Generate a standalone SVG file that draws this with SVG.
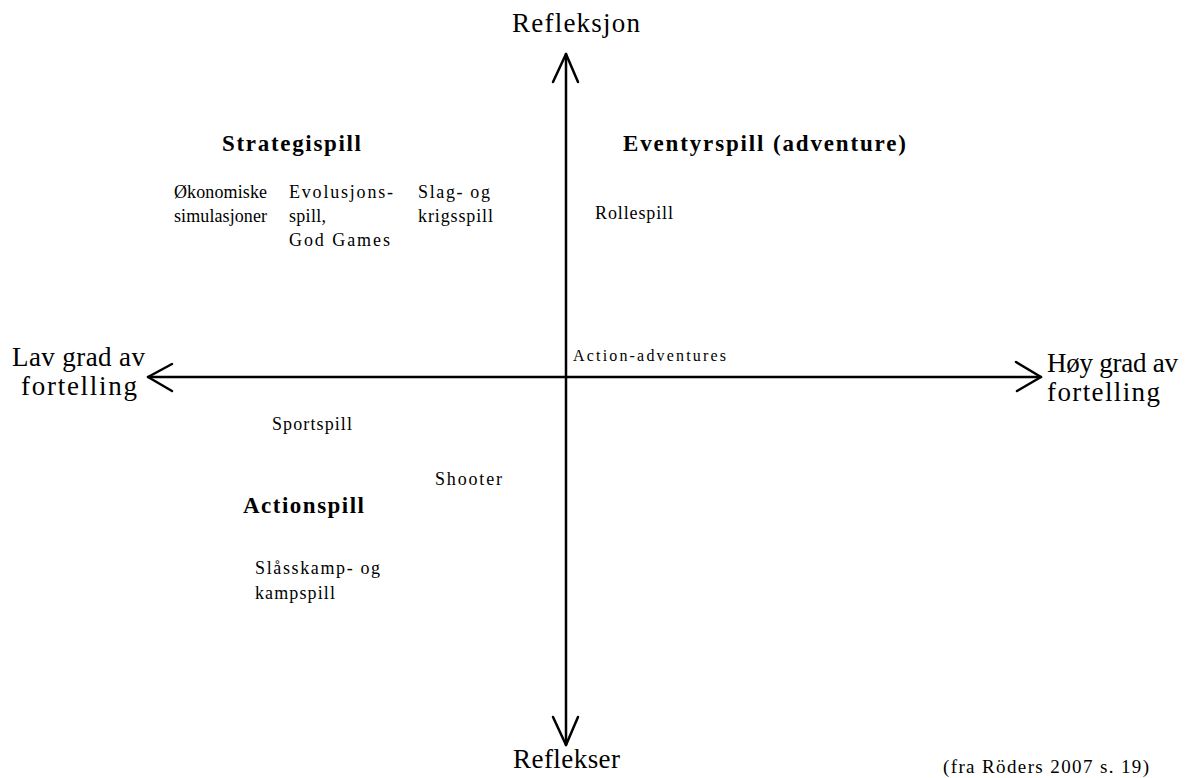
<svg xmlns="http://www.w3.org/2000/svg" width="1198" height="778" viewBox="0 0 1198 778">
<style>
text { font-family: "Liberation Serif", "Times New Roman", serif; fill: #000; }
.big { font-size: 27px; }
.head { font-size: 23px; font-weight: bold; }
.small { font-size: 18px; }
.tiny { font-size: 16px; }
.foot { font-size: 19px; }
.axis { stroke: #000; stroke-width: 2.5; fill: none; stroke-linecap: round; stroke-linejoin: round; }
</style>
<rect width="1198" height="778" fill="#fff"/>
<g id="connectors">
  <line class="axis" x1="566" y1="54" x2="566" y2="745"/>
  <line class="axis" x1="148" y1="377" x2="1041" y2="377"/>
  <polyline class="axis" points="553,82 566,54 578,82"/>
  <polyline class="axis" points="553,717 566,745 578,717"/>
  <polyline class="axis" points="172,364 148,377 172,391"/>
  <polyline class="axis" points="1016,362 1041,377 1017,391"/>
</g>
<g id="refleksjon"><text class="big" x="512" y="32" textLength="128">Refleksjon</text></g>
<g id="reflekser"><text class="big" x="513" y="768" textLength="107">Reflekser</text></g>
<g id="lav"><text class="big" x="12" y="366" textLength="133">Lav grad av</text><text class="big" x="21" y="395" textLength="116">fortelling</text></g>
<g id="hoy"><text class="big" x="1047" y="372" textLength="131">Høy grad av</text><text class="big" x="1047" y="401" textLength="113">fortelling</text></g>
<g id="strategispill"><text class="head" x="222" y="151" textLength="139">Strategispill</text></g>
<g id="eventyrspill"><text class="head" x="623" y="151" textLength="283">Eventyrspill (adventure)</text></g>
<g id="okonomiske"><text class="small" x="174" y="198" textLength="93">Økonomiske</text><text class="small" x="174" y="222" textLength="93">simulasjoner</text></g>
<g id="evolusjon"><text class="small" x="289" y="198" textLength="104">Evolusjons-</text><text class="small" x="289" y="222" textLength="37">spill,</text><text class="small" x="289" y="246" textLength="101">God Games</text></g>
<g id="slag"><text class="small" x="418" y="198" textLength="72">Slag- og</text><text class="small" x="418" y="222" textLength="75">krigsspill</text></g>
<g id="rollespill"><text class="small" x="595" y="219" textLength="78">Rollespill</text></g>
<g id="actionadv"><text class="tiny" x="573" y="361" textLength="153">Action-adventures</text></g>
<g id="sportspill"><text class="small" x="272" y="430" textLength="80">Sportspill</text></g>
<g id="shooter"><text class="small" x="435" y="485" textLength="67">Shooter</text></g>
<g id="actionspill"><text class="head" x="243" y="513" textLength="121">Actionspill</text></g>
<g id="slasskamp"><text class="small" x="255" y="574" textLength="125">Slåsskamp- og</text><text class="small" x="255" y="599" textLength="80">kampspill</text></g>
<g id="kilde"><text class="foot" x="943" y="773" textLength="206">(fra Röders 2007 s. 19)</text></g>
</svg>
